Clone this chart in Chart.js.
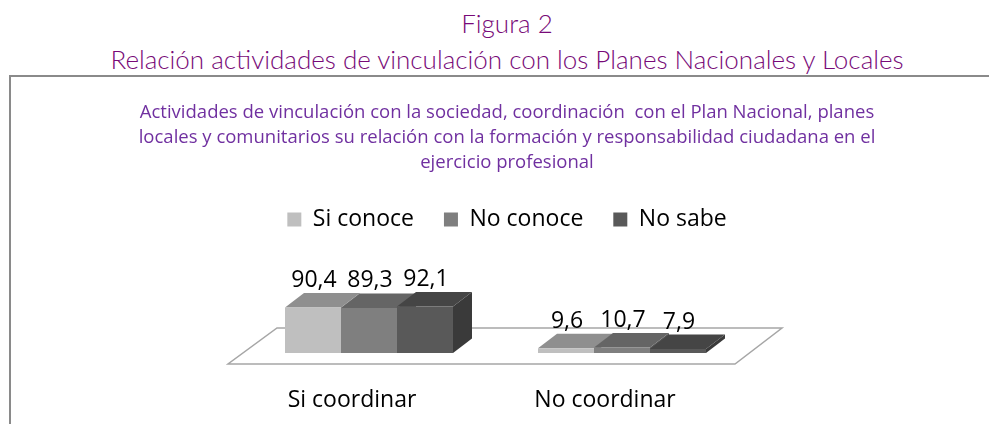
<!DOCTYPE html>
<html>
<head>
<meta charset="utf-8">
<script src="https://cdn.jsdelivr.net/npm/chart.js@4"></script>
<style>
  html, body { margin: 0; padding: 0; background: #fff; width: 989px; height: 424px; overflow: hidden; }
  .h { position: absolute; left: 0; width: 1014px; text-align: center; color: #780A78;
       font-family: "Lato", "DejaVu Sans", sans-serif; font-weight: 300; white-space: nowrap; }
  #h1 { top: 7px; font-size: 26px; }
  #h2 { top: 43px; font-size: 26px; }
  #box { position: absolute; left: 9px; top: 75px; width: 1000px; height: 360px;
         border-top: 2px solid #8a8a8a; border-left: 2px solid #8a8a8a; }
  #wrap { position: absolute; left: 0; top: 0; width: 989px; height: 424px; }
</style>
</head>
<body>
<div id="h1" class="h">Figura 2</div>
<div id="h2" class="h">Relación actividades de vinculación con los Planes Nacionales y Locales</div>
<div id="box"></div>
<div id="wrap"><canvas id="c" width="989" height="424"></canvas></div>
<script>
const categories = ["Si coordinar", "No coordinar"];
const seriesNames = ["Si conoce", "No conoce", "No sabe"];
const siConoce = [90.4, 9.6];
const noConoce = [89.3, 10.7];
const noSabe = [92.1, 7.9];
const titleLines = [
  "Actividades de vinculación con la sociedad, coordinación  con el Plan Nacional, planes",
  "locales y comunitarios su relación con la formación y responsabilidad ciudadana en el",
  "ejercicio profesional"
];

const frontColors = ["#BFBFBF", "#7F7F7F", "#595959"];
const topColors = ["#8F8F8F", "#656565", "#454545"];
const sideColors = ["#8A8A8A", "#555555", "#3A3A3A"];

const DX = 19, DY = -14.5;
const FONT = "'Open Sans', 'DejaVu Sans', sans-serif";

const fmt = v => v.toFixed(1).replace(".", ",");

const threeD = {
  id: "threeD",
  beforeDatasetsDraw(chart) {
    const ctx = chart.ctx;
    const a = chart.chartArea;
    const base = chart.scales.y.getPixelForValue(0);
    ctx.save();
    ctx.beginPath();
    ctx.moveTo(a.left - 14.5, base + 11);
    ctx.lineTo(a.right - 13.5, base + 11);
    ctx.lineTo(a.right + 33.5, base - 25);
    ctx.lineTo(a.left + 34.5, base - 25);
    ctx.closePath();
    ctx.fillStyle = "#ffffff";
    ctx.fill();
    ctx.strokeStyle = "#A6A6A6";
    ctx.lineWidth = 1.5;
    ctx.stroke();
    const n = chart.data.labels.length;
    for (let c = 0; c < n; c++) {
      for (let d = 0; d < chart.data.datasets.length; d++) {
        const el = chart.getDatasetMeta(d).data[c];
        const l = el.x - el.width / 2, r = el.x + el.width / 2;
        const t = el.y, b = el.base;
        ctx.fillStyle = sideColors[d];
        ctx.beginPath();
        ctx.moveTo(r, t); ctx.lineTo(r + DX, t + DY); ctx.lineTo(r + DX, b + DY); ctx.lineTo(r, b);
        ctx.closePath(); ctx.fill();
        ctx.fillStyle = topColors[d];
        ctx.beginPath();
        ctx.moveTo(l, t); ctx.lineTo(r, t); ctx.lineTo(r + DX, t + DY); ctx.lineTo(l + DX, t + DY);
        ctx.closePath(); ctx.fill();
      }
    }
    ctx.restore();
  },
  afterDatasetsDraw(chart) {
    const ctx = chart.ctx;
    ctx.save();
    ctx.font = "23px " + FONT;
    ctx.fillStyle = "#000";
    ctx.textAlign = "center";
    ctx.textBaseline = "middle";
    chart.data.datasets.forEach((ds, d) => {
      chart.getDatasetMeta(d).data.forEach((el, i) => {
        ctx.fillText(fmt(ds.data[i]), el.x + 1, el.y - 27);
      });
    });
    ctx.restore();
  }
};

new Chart(document.getElementById("c"), {
  type: "bar",
  data: {
    labels: categories,
    datasets: [
      { label: seriesNames[0], data: siConoce, backgroundColor: frontColors[0] },
      { label: seriesNames[1], data: noConoce, backgroundColor: frontColors[1] },
      { label: seriesNames[2], data: noSabe, backgroundColor: frontColors[2] }
    ]
  },
  options: {
    responsive: false,
    animation: false,
    events: [],
    layout: { padding: { left: 25, right: 0, top: 82, bottom: 0 } },
    datasets: { bar: { categoryPercentage: 0.664, barPercentage: 1.0, borderWidth: 0 } },
    plugins: {
      tooltip: { enabled: false },
      title: {
        display: true,
        text: titleLines,
        color: "#7030A0",
        font: { family: FONT, size: 18.5, lineHeight: 25 / 18.5, weight: "normal" },
        padding: { top: 18, bottom: 3 }
      },
      legend: {
        display: true,
        position: "top",
        labels: {
          color: "#000",
          font: { family: FONT, size: 23 },
          boxWidth: 14, boxHeight: 14,
          padding: 30
        }
      }
    },
    scales: {
      x: {
        grid: { display: false, drawTicks: false },
        border: { display: false },
        ticks: { color: "#000", font: { family: FONT, size: 23 }, padding: 34, labelOffset: -17, maxRotation: 0 },
        afterFit(scale) { scale.height = 71; }
      },
      y: {
        display: true,
        position: "left",
        min: 0,
        max: 222,
        grid: { display: false, drawTicks: false },
        border: { display: false },
        ticks: { display: false },
        afterFit(scale) { scale.width = 217.5; }
      },
      yR: {
        display: true,
        position: "right",
        grid: { display: false, drawTicks: false },
        border: { display: false },
        ticks: { display: false },
        afterFit(scale) { scale.width = 240.5; }
      }
    }
  },
  plugins: [threeD]
});
</script>
</body>
</html>
